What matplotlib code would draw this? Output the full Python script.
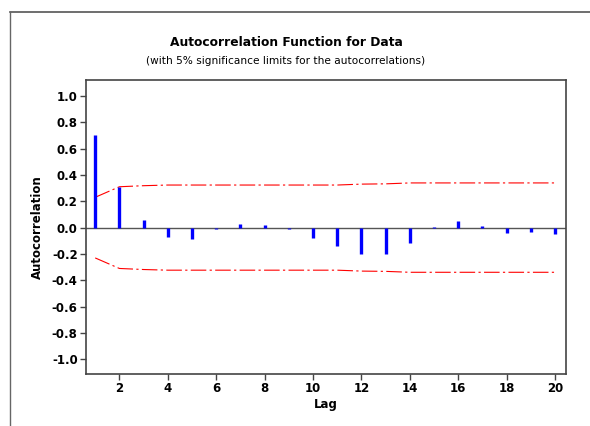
import matplotlib.pyplot as plt
import numpy as np

plt.rcParams['font.family'] = ['DejaVu Sans']

# 数据
lags = np.arange(1, 21)
acf = [0.70, 0.31, 0.06, -0.07, -0.09, -0.01, 0.03, 0.02, -0.01, -0.08,
       -0.14, -0.20, -0.20, -0.12, 0.005, 0.05, 0.01, -0.04, -0.03, -0.05]
limit = [0.23, 0.31, 0.318, 0.323, 0.323, 0.323, 0.323, 0.323, 0.323, 0.323,
         0.323, 0.33, 0.332, 0.339, 0.339, 0.339, 0.339, 0.339, 0.339, 0.339]
y_ticks = [-1.0, -0.8, -0.6, -0.4, -0.2, 0.0, 0.2, 0.4, 0.6, 0.8, 1.0]
x_ticks = [2, 4, 6, 8, 10, 12, 14, 16, 18, 20]

fig = plt.figure(figsize=(5.9, 4.26), dpi=100)
ax = fig.add_axes([86/590, 1-373.5/426, 480/590, 293.5/426])

# 外框（只看得到上边和左边）
fig.add_artist(plt.Line2D([9.5/590, 1], [1-11.5/426, 1-11.5/426], color='#555555', lw=1.2))
fig.add_artist(plt.Line2D([9.5/590, 9.5/590], [0, 1-11.5/426], color='#666666', lw=1.0))

ax.axhline(0, color='#555555', lw=1.0, zorder=1)
ax.vlines(lags, 0, acf, color='#0000ff', lw=2.4, zorder=3)

up, = ax.plot(lags, limit, color='#ff0000', lw=0.8, zorder=2)
lo, = ax.plot(lags, -np.array(limit), color='#ff0000', lw=0.8, zorder=2)
for ln in (up, lo):
    ln.set_dashes([14, 3, 2, 3])

ax.set_xlim(0.62, 20.45)
ax.set_ylim(-1.107, 1.12)
ax.set_xticks(x_ticks)
ax.set_yticks(y_ticks)
ax.set_yticklabels(['%.1f' % v for v in y_ticks])
ax.tick_params(direction='out', length=4, width=1, color='#444444',
               labelsize=8.5, pad=2)
for lab in ax.get_xticklabels() + ax.get_yticklabels():
    lab.set_fontweight('bold')
for s in ax.spines.values():
    s.set_linewidth(1.2)
    s.set_color('#444444')

ax.set_xlabel('Lag', fontsize=8.5, fontweight='bold', labelpad=2)
ax.set_ylabel('Autocorrelation', fontsize=8.5, fontweight='bold', labelpad=6)

fig.text(286/590, 1-42/426, 'Autocorrelation Function for Data',
         ha='center', va='center', fontsize=8.8, fontweight='bold')
fig.text(286/590, 1-61/426, '(with 5% significance limits for the autocorrelations)',
         ha='center', va='center', fontsize=7.6)

plt.savefig('out.png', dpi=100)
